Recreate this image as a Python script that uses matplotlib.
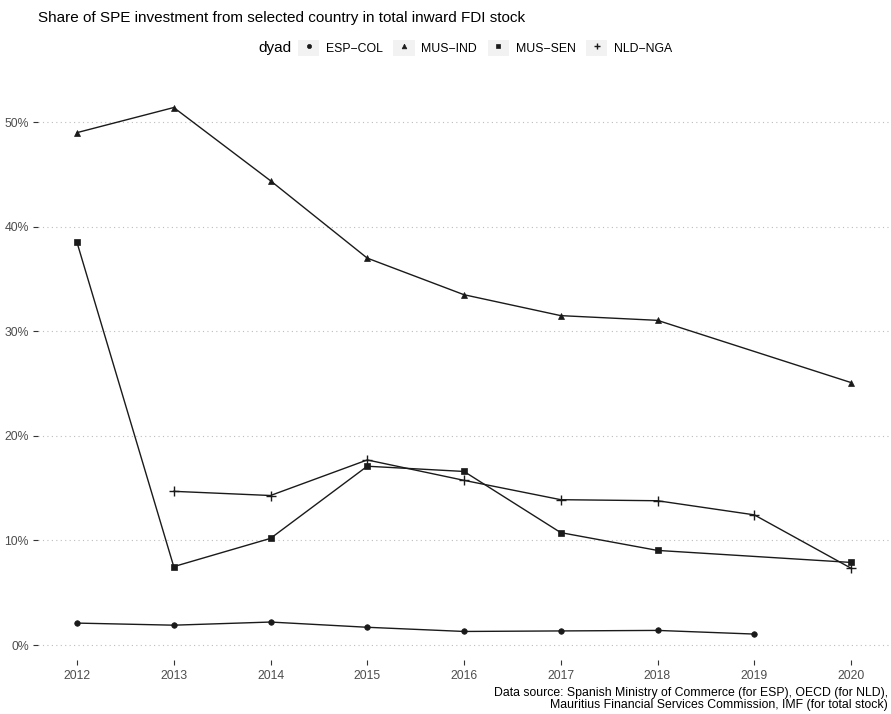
import numpy as np
import matplotlib
matplotlib.use("Agg")
import matplotlib.pyplot as plt
from matplotlib.lines import Line2D
from matplotlib.patches import Rectangle
from matplotlib.legend_handler import HandlerTuple
from matplotlib.ticker import FuncFormatter

plt.rcParams['font.family'] = ['Liberation Sans', 'DejaVu Sans']

# data (share of inward FDI stock, %)
esp_col_years = [2012, 2013, 2014, 2015, 2016, 2017, 2018, 2019]
esp_col = [2.1, 1.9, 2.2, 1.7, 1.3, 1.35, 1.4, 1.05]

mus_ind_years = [2012, 2013, 2014, 2015, 2016, 2017, 2018, 2020]
mus_ind = [49.0, 51.4, 44.4, 37.0, 33.5, 31.5, 31.05, 25.1]

mus_sen_years = [2012, 2013, 2014, 2015, 2016, 2017, 2018, 2020]
mus_sen = [38.5, 7.5, 10.2, 17.1, 16.6, 10.75, 9.05, 7.9]

nld_nga_years = [2013, 2014, 2015, 2016, 2017, 2018, 2019, 2020]
nld_nga = [14.7, 14.3, 17.7, 15.75, 13.9, 13.8, 12.45, 7.35]

series = [
    ("ESP\u2212COL", esp_col_years, esp_col, 'o', 4.0),
    ("MUS\u2212IND", mus_ind_years, mus_ind, '^', 4.5),
    ("MUS\u2212SEN", mus_sen_years, mus_sen, 's', 4.0),
    ("NLD\u2212NGA", nld_nga_years, nld_nga, '+', 6.5),
]
year_ticks = list(range(2012, 2021))
pct_ticks = [0, 10, 20, 30, 40, 50]

W, H = 891, 714
fig = plt.figure(figsize=(W / 100, H / 100), dpi=100)
ax = fig.add_axes([38.3 / W, 1 - 660.4 / H, (889.7 - 38.3) / W, (660.4 - 81.2) / H])

for name, xs, ys, mk, ms in series:
    ax.plot(xs, ys, color='#1a1a1a', lw=1.0, marker=mk, ms=ms, mew=1.0 if mk == '+' else 0.5)

# ggplot-like expansion
allx = [x for s in series for x in s[1]]
ally = [y for s in series for y in s[2]]
xr = max(allx) - min(allx)
yr = max(ally) - min(ally)
ax.set_xlim(min(allx) - 0.05 * xr, max(allx) + 0.05 * xr)
ax.set_ylim(min(ally) - 0.05 * yr, max(ally) + 0.05 * yr)

ax.set_xticks(year_ticks)
ax.set_yticks(pct_ticks)
ax.yaxis.set_major_formatter(FuncFormatter(lambda v, p: f"{v:.0f}%"))
for s in ax.spines.values():
    s.set_visible(False)
ax.grid(axis='y', linestyle=(0, (1, 3)), color='#bdbdbd', lw=0.8)
ax.grid(axis='x', visible=False)
ax.tick_params(axis='both', length=3.8, width=0.8, color='#333333',
               labelsize=8.8, labelcolor='#4d4d4d', pad=3)

fig.text(38 / W, 1 - 18 / H, "Share of SPE investment from selected country in total inward FDI stock",
         fontsize=11, ha='left', va='center', color='black')

# legend
fig.text(258 / W, 1 - 48 / H, "dyad", fontsize=11, ha='left', va='center', color='black')
handles = []
for name, xs, ys, mk, ms in series:
    bg = Rectangle((0, 0), 1, 1, facecolor='#f2f2f2', edgecolor='none')
    m = Line2D([], [], color='#1a1a1a', ls='none', marker=mk, ms=ms * 0.75,
               mew=1.0 if mk == '+' else 0.5)
    handles.append((bg, m))
fig.legend(handles, [s[0] for s in series], handler_map={tuple: HandlerTuple(ndivide=1, pad=0)},
           loc='center left', bbox_to_anchor=(298 / W, 1 - 48 / H), ncol=4, frameon=False,
           fontsize=8.8, handlelength=1.75, handleheight=1.75, handletextpad=0.55,
           columnspacing=0.85, borderpad=0, borderaxespad=0)

fig.text(888 / W, 1 - 699 / H,
         "Data source: Spanish Ministry of Commerce (for ESP), OECD (for NLD),\n"
         "Mauritius Financial Services Commission, IMF (for total stock)",
         fontsize=8.8, ha='right', va='center', color='black', linespacing=1.1)

fig.savefig("out.png", dpi=100)
